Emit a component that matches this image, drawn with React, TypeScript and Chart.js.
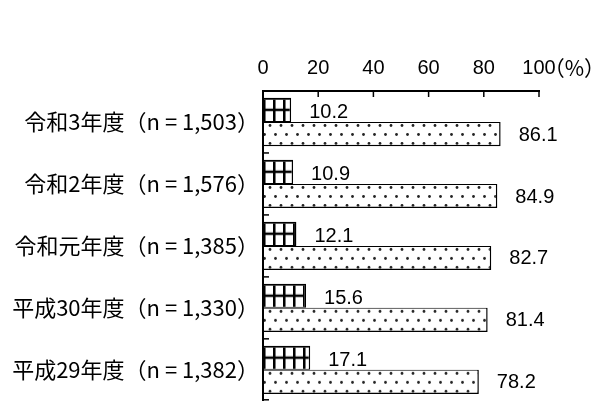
import React, { useEffect, useRef } from "react";
import { Chart, registerables } from "chart.js";
Chart.register(...registerables);

const categories = [
  "令和3年度（n = 1,503）",
  "令和2年度（n = 1,576）",
  "令和元年度（n = 1,385）",
  "平成30年度（n = 1,330）",
  "平成29年度（n = 1,382）",
];
const seriesGrid = [10.2, 10.9, 12.1, 15.6, 17.1];
const seriesDot = [86.1, 84.9, 82.7, 81.4, 78.2];
const xTickValues = [0, 20, 40, 60, 80, 100];
const unitLabel = "（%）";

const CAT_PCT = 0.78;
const NUM_FONT = "'Liberation Sans', Arial, sans-serif";
const JP_FONT = "'Noto Sans CJK JP', sans-serif";

function gridTile(h: number) {
  const c = document.createElement("canvas");
  c.width = 10;
  c.height = h;
  const g = c.getContext("2d")!;
  g.fillStyle = "#fff";
  g.fillRect(0, 0, 10, h);
  g.fillStyle = "#000";
  g.fillRect(0, 0, 2.5, h);
  g.fillRect(0, 0, 10, 2);
  g.fillRect(0, Math.round(h / 2) - 1.25, 10, 2.5);
  return c;
}

function dotTile() {
  const c = document.createElement("canvas");
  c.width = 11;
  c.height = 18;
  const g = c.getContext("2d")!;
  g.fillStyle = "#fff";
  g.fillRect(0, 0, 11, 18);
  g.fillStyle = "#222";
  for (const [x, y] of [[7, 3.5], [1.5, 12.5]]) {
    g.beginPath();
    g.arc(x, y, 1.4, 0, Math.PI * 2);
    g.fill();
  }
  return c;
}

function barTop(chart: any, index: number, dsIndex: number) {
  const area = chart.chartArea;
  const ys = chart.scales.y;
  const catH = (area.bottom - area.top) / categories.length;
  const barH = (catH * CAT_PCT) / 2;
  const center = ys.getPixelForValue(index);
  return center - barH + dsIndex * barH;
}

function patternFor(kind: "grid" | "dot") {
  return (c: any) => {
    const chart = c.chart;
    const area = chart.chartArea;
    if (!area || c.dataIndex === undefined) return "#fff";
    const catH = (area.bottom - area.top) / categories.length;
    const barH = Math.round((catH * CAT_PCT) / 2);
    const tile = kind === "grid" ? gridTile(barH) : dotTile();
    const p = chart.ctx.createPattern(tile, "repeat");
    const top = barTop(chart, c.dataIndex, kind === "grid" ? 0 : 1);
    p.setTransform(new DOMMatrix([1, 0, 0, 1, area.left, top]));
    return p;
  };
}

const decorPlugin = {
  id: "decor",
  afterDatasetsDraw(chart: any) {
    const ctx = chart.ctx;
    const area = chart.chartArea;
    ctx.save();
    // value labels
    ctx.fillStyle = "#000";
    ctx.font = `20px ${NUM_FONT}`;
    ctx.textAlign = "left";
    ctx.textBaseline = "middle";
    chart.data.datasets.forEach((ds: any, di: number) => {
      const meta = chart.getDatasetMeta(di);
      meta.data.forEach((el: any, i: number) => {
        ctx.fillText(Number(ds.data[i]).toFixed(1), el.x + 18, el.y + (di === 0 ? 3 : 1));
      });
    });
    // inward ticks on top axis
    ctx.strokeStyle = "#000";
    ctx.lineWidth = 1.5;
    const xs = chart.scales.x;
    xTickValues.forEach((v) => {
      const x = xs.getPixelForValue(v);
      ctx.beginPath();
      ctx.moveTo(x, area.top);
      ctx.lineTo(x, area.top + 6);
      ctx.stroke();
    });
    // inward ticks on left axis at category boundaries
    const catH = (area.bottom - area.top) / categories.length;
    for (let i = 1; i <= categories.length; i++) {
      const y = Math.min(area.top + catH * i, area.bottom - 1);
      ctx.beginPath();
      ctx.moveTo(area.left, y);
      ctx.lineTo(area.left + 6, y);
      ctx.stroke();
    }
    // unit label after "100"
    ctx.font = `20px ${NUM_FONT}`;
    const w100 = ctx.measureText("100").width;
    ctx.font = `21px ${JP_FONT}`;
    ctx.textBaseline = "middle";
    ctx.textAlign = "left";
    ctx.fillText(unitLabel, xs.getPixelForValue(100) + w100 / 2 - 12, 68);
    ctx.restore();
  },
};

export default function App() {
  const ref = useRef<HTMLCanvasElement>(null);
  useEffect(() => {
    const chart = new Chart(ref.current!, {
      type: "bar",
      data: {
        labels: categories,
        datasets: [
          {
            data: seriesGrid,
            backgroundColor: patternFor("grid") as any,
            borderColor: "#000",
            borderWidth: { top: 1.5, right: 1.5, bottom: 1, left: 0 },
            borderSkipped: false,
            barPercentage: 1,
            categoryPercentage: CAT_PCT,
          },
          {
            data: seriesDot,
            backgroundColor: patternFor("dot") as any,
            borderColor: "#000",
            borderWidth: { top: 1, right: 1.5, bottom: 1.5, left: 0 },
            borderSkipped: false,
            barPercentage: 1,
            categoryPercentage: CAT_PCT,
          },
        ],
      },
      options: {
        indexAxis: "y",
        responsive: false,
        animation: false,
        layout: { padding: { top: 0, right: 75, bottom: 0, left: 0 } },
        plugins: { legend: { display: false }, tooltip: { enabled: false } },
        scales: {
          x: {
            position: "top",
            min: 0,
            max: 100,
            afterFit: (s: any) => {
              s.height = 91;
            },
            afterBuildTicks: (s: any) => {
              s.ticks = xTickValues.map((v) => ({ value: v }));
            },
            ticks: {
              color: "#000",
              padding: 11,
              font: { family: NUM_FONT, size: 20 },
              maxRotation: 0,
            },
            grid: { display: false, drawTicks: false },
            border: { display: true, color: "#000", width: 2, z: 1 },
          },
          y: {
            afterFit: (s: any) => {
              s.width = 263;
            },
            ticks: {
              color: "#000",
              padding: 4,
              font: { family: JP_FONT, size: 22 },
            },
            grid: { display: false, drawTicks: false },
            border: { display: true, color: "#000", width: 2, z: 1 },
          },
        },
      },
      plugins: [decorPlugin],
    });
    return () => chart.destroy();
  }, []);
  return (
    <div style={{ position: "absolute", left: 0, top: 0, width: 614, height: 418, background: "#fff" }}>
      <canvas ref={ref} width={614} height={418} style={{ display: "block", width: 614, height: 418 }} />
    </div>
  );
}
